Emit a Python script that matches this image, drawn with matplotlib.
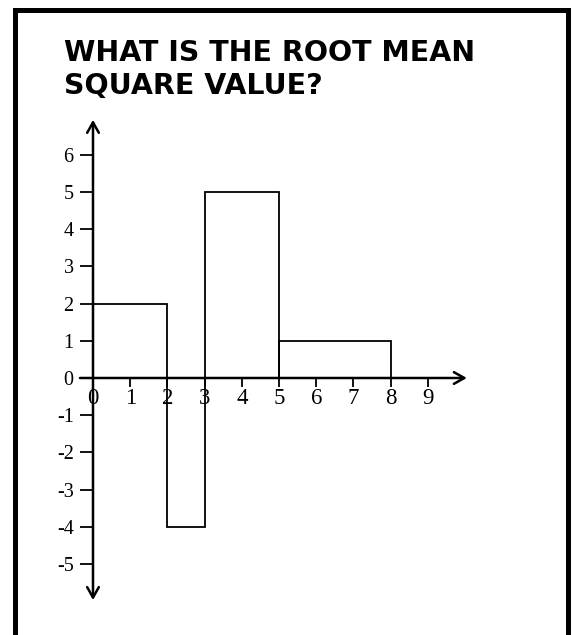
import matplotlib
matplotlib.use("Agg")
import matplotlib.pyplot as plt
from matplotlib.patches import Rectangle

matplotlib.rcParams["axes.unicode_minus"] = False

# ── Data ─────────────────────────────────────────────────────────────
seg_start = [0, 2, 3, 5]
seg_width = [2, 1, 2, 3]
seg_value = [2, -4, 5, 1]

x_ticks = [0, 1, 2, 3, 4, 5, 6, 7, 8, 9]
x_labels = ["0", "1", "2", "3", "4", "5", "6", "7", "8", "9"]
y_ticks = [-5, -4, -3, -2, -1, 0, 1, 2, 3, 4, 5, 6]
y_labels = ["-5", "-4", "-3", "-2", "-1", "0", "1", "2", "3", "4", "5", "6"]

title_lines = ["WHAT IS THE ROOT MEAN", "SQUARE VALUE?"]

# ── Figure ───────────────────────────────────────────────────────────
W, H = 573, 635
fig = plt.figure(figsize=(W / 100, H / 100), dpi=100)
fig.patch.set_facecolor("white")

# axes placed so one data unit is ~37.2 px and the origin sits at (93, 378)
unit = 37.2
ox, oy = 93, 378
xlim = (-2.0, 11.0)
ylim = (-6.5, 7.5)
left = (ox + unit * xlim[0]) / W
width = unit * (xlim[1] - xlim[0]) / W
bottom = (H - (oy - unit * ylim[0])) / H
height = unit * (ylim[1] - ylim[0]) / H
ax = fig.add_axes([left, bottom, width, height])
ax.set_xlim(*xlim)
ax.set_ylim(*ylim)
ax.patch.set_alpha(0)

for s in ["top", "right"]:
    ax.spines[s].set_visible(False)
ax.spines["left"].set_position(("data", 0))
ax.spines["bottom"].set_position(("data", 0))
ax.spines["left"].set_visible(False)
ax.spines["bottom"].set_visible(False)

# step signal drawn as outlined blocks
ax.bar(seg_start, seg_value, width=seg_width, align="edge",
       fill=False, edgecolor="black", linewidth=1.3, zorder=2)

# axes with arrowheads
arrow = dict(arrowstyle="->,head_length=0.75,head_width=0.42",
             color="black", lw=1.8, shrinkA=0, shrinkB=0, mutation_scale=10)
ax.annotate("", xy=(10.05, 0), xytext=(-0.35, 0), arrowprops=arrow, zorder=3)
arrow2 = dict(arrow, arrowstyle="<->,head_length=0.75,head_width=0.42")
ax.annotate("", xy=(0, 6.94), xytext=(0, -5.97), arrowprops=arrow2, zorder=3)

ax.set_xticks(x_ticks)
ax.set_xticklabels(x_labels, fontsize=16.5, family="Liberation Serif")
ax.set_yticks(y_ticks)
ax.set_yticklabels(y_labels, fontsize=14.5, family="Liberation Serif")
ax.tick_params(axis="x", direction="out", length=6.5, width=1.3, pad=1)
ax.tick_params(axis="y", direction="out", length=9.4, width=1.3, pad=4.5)

# frame round the whole card
fig.add_artist(Rectangle((14.5 / W, -0.05), (568 - 14.5) / W, 1.05 - 10 / H,
                         transform=fig.transFigure, fill=False,
                         edgecolor="black", linewidth=3.6, clip_on=False))

# heading
for i, line in enumerate(title_lines):
    fig.text(64 / W, 1 - (61 + 33 * i) / H, line, ha="left", va="baseline",
             fontsize=20.5, fontweight="bold", family="DejaVu Sans")

fig.savefig("out.png", dpi=100)
